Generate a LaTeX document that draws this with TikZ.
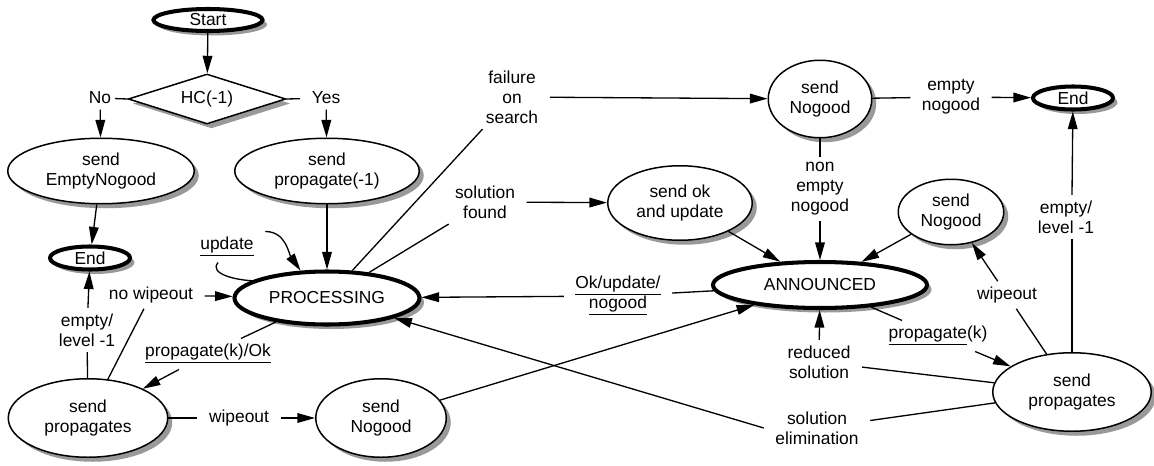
\documentclass[tikz,border=0pt]{standalone}
\usepackage{fontspec}
\setmainfont{Liberation Sans}
\usetikzlibrary{shapes.geometric,arrows.meta,shadows}

\begin{document}
\begin{tikzpicture}[
    font=\fontsize{9.9}{11.4}\selectfont,
    line width=0.75pt,
    >={Triangle[length=10pt,width=5.5pt]},
    shadowed/.style={drop shadow={shadow xshift=0.09cm, shadow yshift=-0.09cm, fill=black!40, opacity=1}},
    state/.style={draw, ellipse, fill=white, line width=0.85pt, inner sep=0pt, align=center, shadowed},
    final/.style={state, line width=2.3pt},
    cond/.style={draw, diamond, fill=white, line width=0.85pt, inner sep=0pt, aspect=3, minimum width=3.15cm, minimum height=1cm, shadowed},
    lbl/.style={align=center, inner xsep=0.22cm, inner ysep=0.1cm}
  ]
    \useasboundingbox (0,0) rectangle (23.08,-9.32);

    % States
    \node[final, minimum width=2.18cm, minimum height=0.44cm] at (4.16,-0.4)  (start)   {Start};
    \node[cond] at (4.14,-1.98) (hc) {HC(-1)};
    \node[state, minimum width=3.73cm, minimum height=1.31cm] at (2.02,-3.42) (emptyng) {send\\EmptyNogood};
    \node[state, minimum width=3.69cm, minimum height=1.31cm] at (6.54,-3.42) (prop1)   {send\\propagate(-1)};
    \node[final, minimum width=1.6cm, minimum height=0.46cm]  at (1.8,-5.16)   (endL)    {End};
    \node[final, minimum width=3.7cm, minimum height=1.06cm]  at (6.54,-5.96)  (proc)    {PROCESSING};
    \node[final, minimum width=4.28cm, minimum height=0.92cm] at (16.4,-5.7)   (ann)     {ANNOUNCED};
    \node[state, minimum width=2.07cm, minimum height=1.55cm] at (16.4,-1.98)  (ngTop)   {send\\Nogood};
    \node[final, minimum width=1.6cm, minimum height=0.46cm]  at (21.46,-1.96) (endR)    {End};
    \node[state, minimum width=2.11cm, minimum height=1.31cm] at (19.02,-4.24) (ngMid)   {send\\Nogood};
    \node[state, minimum width=2.89cm, minimum height=1.49cm] at (13.6,-4.06)  (okupd)   {send ok\\and update};
    \node[state, minimum width=3.17cm, minimum height=1.57cm] at (21.44,-7.84) (spR)     {send\\propagates};
    \node[state, minimum width=3.19cm, minimum height=1.57cm] at (1.76,-8.36)  (spL)     {send\\propagates};
    \node[state, minimum width=2.61cm, minimum height=1.57cm] at (7.62,-8.36)  (ngBot)   {send\\Nogood};

    % Transition labels
    \node[lbl, inner xsep=0.06cm] at (2.0,-1.96) (no)  {No};
    \node[lbl] at (6.52,-1.96)  (yes)      {Yes};
    \node[lbl] at (10.24,-1.94) (fail)     {failure\\on\\search};
    \node[lbl] at (9.7,-4.04)   (solf)     {solution\\found};
    \node[lbl] at (19.02,-1.94) (emptyNg)  {empty\\nogood};
    \node[lbl] at (16.4,-3.78)  (nonEmpty) {non\\empty\\nogood};
    \node[lbl] at (21.32,-4.34) (lvlR)     {empty/\\level -1};
    \node[lbl] at (20.14,-5.9)  (wipeR)    {wipeout};
    \node[lbl] at (18.76,-6.72) (propk)    {\underline{propagate}(k)};
    \node[lbl] at (16.38,-7.24) (reduced)  {reduced\\solution};
    \node[lbl] at (16.34,-8.56) (elim)     {solution\\elimination};
    \node[lbl] at (12.36,-5.92) (okng)     {\underline{Ok/update/}\\\underline{nogood}};
    \node[lbl] at (4.78,-8.36)  (wipeL)    {wipeout};
    \node[lbl] at (3.02,-5.9)   (nowipe)   {no wipeout};
    \node[lbl] at (4.16,-7.08)  (propok)   {\underline{propagate(k)/Ok}};
    \node[lbl] at (1.74,-6.6)   (lvlL)     {empty/\\level -1};
    \node[lbl] at (4.54,-4.94)  (upd)      {\underline{update}};

    % Start and test
    \draw[->] (start) -- (hc);
    \draw (hc.west) -- (no);
    \draw (hc.east) -- (yes);
    \draw[->] (no) -- (emptyng);
    \draw[->] (yes) -- (prop1);
    \draw[->] (emptyng) -- (endL);
    \draw[->] (prop1) -- (proc);

    % Around PROCESSING
    \draw (proc.167) to[out=178,in=230] (upd.240);
    \draw[->] (upd.north east) to[out=0,in=125] (proc.134);
    \draw (proc) -- (fail);
    \draw[->] (fail) -- (ngTop);
    \draw (proc) -- (solf);
    \draw[->] (solf) -- (okupd);
    \draw (proc) -- (propok);
    \draw[->] (propok) -- (spL);
    \draw (spL) -- (nowipe);
    \draw[->] (nowipe) -- (proc);
    \draw (spL) -- (lvlL);
    \draw[->] (lvlL) -- (endL);
    \draw (spL) -- (wipeL);
    \draw[->] (wipeL) -- (ngBot);
    \draw[->] (ngBot) -- (ann);

    % Around ANNOUNCED
    \draw (ann) -- (okng);
    \draw[->] (okng) -- (proc);
    \draw[->] (okupd) -- (ann);
    \draw (ngTop) -- (nonEmpty);
    \draw[->] (nonEmpty) -- (ann);
    \draw (ngTop) -- (emptyNg);
    \draw[->] (emptyNg) -- (endR);
    \draw[->] (ngMid) -- (ann);
    \draw (ann) -- (propk);
    \draw[->] (propk) -- (spR);
    \draw (spR) -- (wipeR);
    \draw[->] (wipeR) -- (ngMid);
    \draw (spR) -- (spR |- lvlR.south);
    \draw[->] (spR |- lvlR.north) -- (endR);
    \draw (spR) -- (reduced);
    \draw[->] (reduced) -- (ann);
    \draw (spR) -- (elim);
    \draw[->] (elim.west) -- (proc);

  \end{tikzpicture}
\end{document}
